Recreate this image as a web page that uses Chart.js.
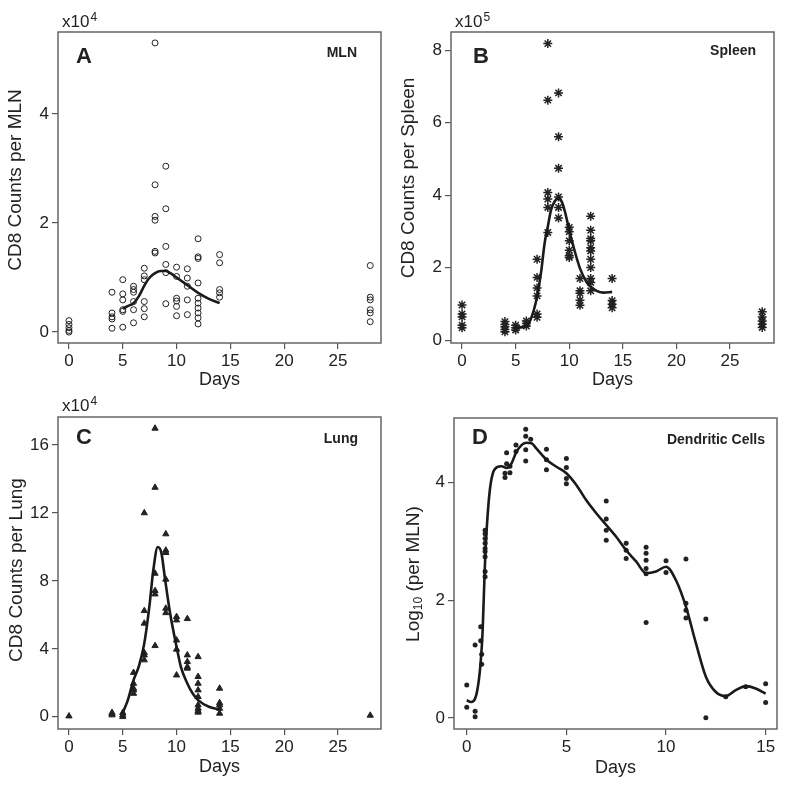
<!DOCTYPE html>
<html>
<head>
<meta charset="utf-8">
<script src="https://cdn.jsdelivr.net/npm/chart.js@4"></script>
<style>
	body { margin: 0; background: #fff; }
	#wrap { position: relative; width: 785px; height: 785px; }
	.panel { position: absolute; width: 392px; height: 392px; }
</style>
</head>
<body>
<div id="wrap">
	<div class="panel" style="left:0;top:0"><canvas id="chartA" width="392" height="392"></canvas></div>
	<div class="panel" style="left:392px;top:0"><canvas id="chartB" width="392" height="392"></canvas></div>
	<div class="panel" style="left:0;top:392px"><canvas id="chartC" width="392" height="392"></canvas></div>
	<div class="panel" style="left:392px;top:392px"><canvas id="chartD" width="392" height="392"></canvas></div>
</div>
<script>
/* Data */
const FONT = "'Liberation Sans', Arial, Helvetica, sans-serif"
const dayTicks = [0, 5, 10, 15, 20, 25]

// A: CD8 per MLN (x10^4)
const mlnDays = [0, 4, 5, 6, 7, 8, 9, 10, 11, 12, 14, 28]
const mlnCounts = [
	[0.21, 0.14, 0.08, 0.03, 0.0],
	[0.73, 0.35, 0.28, 0.24, 0.07],
	[0.96, 0.70, 0.59, 0.41, 0.38, 0.09],
	[0.84, 0.78, 0.73, 0.56, 0.41, 0.17],
	[1.17, 1.03, 0.96, 0.56, 0.43, 0.28],
	[5.30, 2.70, 2.12, 2.05, 1.48, 1.45],
	[3.04, 2.26, 1.57, 1.24, 1.09, 0.52],
	[1.19, 1.02, 0.62, 0.57, 0.47, 0.30],
	[1.16, 0.99, 0.84, 0.59, 0.32],
	[1.71, 1.38, 1.35, 0.90, 0.62, 0.53, 0.44, 0.35, 0.26, 0.15],
	[1.42, 1.27, 0.78, 0.72, 0.64],
	[1.22, 0.64, 0.59, 0.41, 0.35, 0.19],
]
const mlnFitDays = [5, 5.5, 6, 6.5, 7, 7.5, 8, 8.5, 9, 9.5, 10, 11, 12, 13, 14]
const mlnFitValues = [0.43, 0.48, 0.53, 0.66, 0.85, 1.0, 1.08, 1.12, 1.12, 1.07, 1.0, 0.86, 0.72, 0.61, 0.53]
const mlnTicks = [0, 2, 4]

// B: CD8 per spleen (x10^5)
const spleenDays = [0, 4, 5, 6, 7, 8, 9, 10, 11, 12, 14, 28]
const spleenCounts = [
	[0.97, 0.72, 0.64, 0.41, 0.34],
	[0.51, 0.43, 0.37, 0.29, 0.23],
	[0.41, 0.34, 0.28],
	[0.53, 0.46, 0.39],
	[2.23, 1.73, 1.44, 1.22, 0.72, 0.63],
	[8.18, 6.62, 4.07, 3.89, 3.66, 2.97],
	[6.82, 5.61, 4.74, 3.95, 3.66, 3.37],
	[3.11, 2.99, 2.74, 2.48, 2.33, 2.28],
	[1.70, 1.36, 1.29, 1.10, 0.96],
	[3.42, 3.03, 2.80, 2.74, 2.55, 2.46, 2.23, 2.00, 1.70, 1.59, 1.36],
	[1.70, 1.09, 0.99, 0.89],
	[0.78, 0.64, 0.53, 0.44, 0.35],
]
const spleenFitDays = [5, 6, 6.3, 6.7, 7, 7.4, 7.7, 8, 8.3, 8.65, 9, 9.3, 9.6, 10, 10.4, 11, 11.6, 12, 12.6, 13.2, 14]
const spleenFitValues = [0.34, 0.38, 0.5, 0.83, 1.2, 1.93, 2.67, 3.13, 3.59, 3.83, 3.91, 3.82, 3.54, 3.03, 2.57, 1.98, 1.61, 1.47, 1.35, 1.31, 1.33]
const spleenTicks = [0, 2, 4, 6, 8]

// C: CD8 per lung (x10^4)
const lungDays = [0, 4, 5, 6, 7, 8, 9, 10, 11, 12, 14, 28]
const lungCounts = [
	[0.04],
	[0.24, 0.16, 0.1],
	[0.24, 0.1, 0.0],
	[2.6, 1.96, 1.67, 1.57, 1.37],
	[12.0, 6.24, 5.5, 3.77, 3.63, 3.34],
	[16.98, 13.5, 8.44, 7.42, 7.22, 4.18],
	[10.76, 9.8, 9.66, 8.09, 6.38, 6.12],
	[5.89, 5.69, 4.51, 3.97, 2.45],
	[5.77, 3.63, 3.24, 2.94, 2.85],
	[3.53, 2.36, 1.96, 1.57, 1.18, 0.69, 0.49, 0.35, 0.26],
	[1.67, 0.82, 0.69, 0.49, 0.2],
	[0.08],
]
const lungFitDays = [5, 5.47, 6, 6.5, 7, 7.47, 7.84, 8.25, 8.6, 8.9, 9.4, 10, 10.4, 11, 11.5, 12, 13, 14]
const lungFitValues = [0.24, 0.98, 2.16, 2.98, 4.32, 6.48, 8.64, 10.0, 9.62, 8.24, 6.09, 4.12, 2.94, 1.96, 1.37, 0.98, 0.59, 0.43]
const lungTicks = [0, 4, 8, 12, 16]

// D: dendritic cells, log10 per MLN
const dcDays = [0, 0.42, 0.7, 0.75, 0.92, 1.92, 2.0, 2.17, 2.47, 2.96, 3.21, 4, 5, 7, 8, 9, 10, 11, 12, 13, 14, 15]
const dcLogs = [
	[0.56, 0.18],
	[1.24, 0.11, 0.02],
	[1.55, 1.31],
	[1.08, 0.91],
	[3.19, 3.13, 3.05, 2.97, 2.88, 2.83, 2.74, 2.49, 2.40],
	[4.16, 4.09],
	[4.51, 4.32],
	[4.28, 4.17],
	[4.64, 4.53],
	[4.91, 4.79, 4.56, 4.37],
	[4.74],
	[4.57, 4.39, 4.22],
	[4.41, 4.26, 4.07, 3.98],
	[3.69, 3.38, 3.19, 3.02],
	[2.97, 2.85, 2.71],
	[2.90, 2.80, 2.68, 2.54, 2.45, 1.62],
	[2.67, 2.47],
	[2.70, 1.95, 1.83, 1.70],
	[1.68, 0.0],
	[0.36],
	[0.53],
	[0.58, 0.26],
]
const dcFitDays = [0, 0.2, 0.5, 0.7, 0.8, 0.9, 1.0, 1.15, 1.3, 1.5, 1.75, 2, 2.25, 2.5, 3, 3.25, 3.5, 4, 4.5, 5, 5.5, 6, 6.5, 7, 7.5, 8, 8.5, 9, 9.5, 10, 10.5, 11, 11.5, 12, 12.5, 13, 13.5, 14, 14.5, 15]
const dcFitValues = [0.30, 0.27, 0.42, 0.95, 1.5, 2.5, 3.2, 3.85, 4.15, 4.26, 4.28, 4.25, 4.33, 4.53, 4.68, 4.67, 4.58, 4.39, 4.27, 4.16, 3.96, 3.70, 3.48, 3.28, 3.08, 2.85, 2.66, 2.46, 2.49, 2.57, 2.34, 1.89, 1.27, 0.70, 0.44, 0.37, 0.47, 0.54, 0.50, 0.41]
const dcTicks = [0, 2, 4]
const dcDayTicks = [0, 5, 10, 15]

/* Frame and labels */
const panelText = {
	id: 'panelText',
	afterDraw(chart, args, o) {
		const { ctx, chartArea: a } = chart
		ctx.save()
		ctx.strokeStyle = '#666'
		ctx.lineWidth = 1.5
		ctx.strokeRect(a.left, a.top, a.right - a.left, a.bottom - a.top)

		ctx.fillStyle = '#222'
		ctx.textBaseline = 'alphabetic'
		ctx.textAlign = 'left'
		ctx.font = 'bold 22px ' + FONT
		ctx.fillText(o.letter, a.left + o.letterX, a.top + o.letterY)

		ctx.textAlign = 'right'
		ctx.font = 'bold 14px ' + FONT
		ctx.fillText(o.tissue, a.right - o.tissueX, a.top + o.tissueY)

		ctx.textAlign = 'left'
		if (o.exponent) {
			ctx.font = '17px ' + FONT
			ctx.fillText('x10', a.left + 4, a.top - o.expY)
			const w = ctx.measureText('x10').width
			ctx.font = '12px ' + FONT
			ctx.fillText(o.exponent, a.left + 5 + w, a.top - o.expY - 6)
		}

		// y title, rotated, with optional subscript
		ctx.translate(o.titleX, o.titleY)
		ctx.rotate(-Math.PI / 2)
		const parts = o.yTitle
		let total = 0
		parts.forEach(p => {
			ctx.font = (p.sub ? '12px ' : '19px ') + FONT
			total += ctx.measureText(p.text).width
		})
		let x = -total / 2
		parts.forEach(p => {
			ctx.font = (p.sub ? '12px ' : '19px ') + FONT
			ctx.fillText(p.text, x, p.sub ? 10 : 7)
			x += ctx.measureText(p.text).width
		})
		ctx.restore()
	},
}

function makePanel(id, p) {
	const points = []
	p.days.forEach((d, i) => p.counts[i].forEach(v => points.push({ x: d, y: v })))
	const fit = p.fitDays.map((d, i) => ({ x: d, y: p.fitValues[i] }))
	const tickFont = { family: FONT, size: 17 }
	const tickGrid = { drawOnChartArea: false, color: '#555', tickLength: 6, lineWidth: 1.2 }

	new Chart(document.getElementById(id), {
		type: 'scatter',
		data: {
			datasets: [
				{
					data: fit,
					showLine: true,
					pointRadius: 0,
					borderColor: '#1a1a1a',
					borderWidth: 2.6,
					cubicInterpolationMode: 'monotone',
					order: 0,
				},
				{
					data: points,
					pointStyle: p.pointStyle,
					pointRadius: p.radius,
					pointBorderWidth: p.lineWidth,
					borderColor: '#222',
					backgroundColor: p.fill,
					order: 1,
				},
			],
		},
		options: {
			responsive: false,
			animation: false,
			events: [],
			layout: { padding: { left: 0, top: p.top, right: p.right, bottom: 0 } },
			plugins: {
				legend: { display: false },
				tooltip: { enabled: false },
				panelText: p.text,
			},
			scales: {
				x: {
					type: 'linear',
					min: p.xMin,
					max: p.xMax,
					afterBuildTicks: s => { s.ticks = p.xTicks.map(v => ({ value: v })) },
					afterFit: s => { s.height = p.bottomH },
					grid: tickGrid,
					border: { display: false },
					ticks: { font: tickFont, color: '#222', padding: 2, maxRotation: 0 },
					title: {
						display: true,
						text: 'Days',
						font: { family: FONT, size: 18 },
						color: '#222',
						padding: { top: 0, bottom: p.daysPad },
					},
				},
				y: {
					type: 'linear',
					min: p.yMin,
					max: p.yMax,
					afterBuildTicks: s => { s.ticks = p.yTicks.map(v => ({ value: v })) },
					afterFit: s => { s.width = p.leftW },
					grid: tickGrid,
					border: { display: false },
					ticks: { font: tickFont, color: '#222', padding: 3 },
				},
			},
		},
		plugins: [panelText],
	})
}

makePanel('chartA', {
	days: mlnDays, counts: mlnCounts, fitDays: mlnFitDays, fitValues: mlnFitValues,
	pointStyle: 'circle', radius: 3, lineWidth: 1, fill: 'rgba(0,0,0,0)',
	xMin: -1.02, xMax: 29.0, yMin: -0.2, yMax: 5.5, xTicks: dayTicks, yTicks: mlnTicks,
	leftW: 58, top: 32, right: 11, bottomH: 49, daysPad: 1,
	text: {
		letter: 'A', letterX: 18, letterY: 31, tissue: 'MLN', tissueX: 24, tissueY: 25,
		exponent: '4', expY: 5, titleX: 14, titleY: 180,
		yTitle: [{ text: 'CD8 Counts per MLN' }],
	},
})

makePanel('chartB', {
	days: spleenDays, counts: spleenCounts, fitDays: spleenFitDays, fitValues: spleenFitValues,
	pointStyle: 'star', radius: 4.5, lineWidth: 1.5, fill: '#222',
	xMin: -1.03, xMax: 29.1, yMin: -0.08, yMax: 8.5, xTicks: dayTicks, yTicks: spleenTicks,
	leftW: 59, top: 32, right: 10, bottomH: 49, daysPad: 1,
	text: {
		letter: 'B', letterX: 22, letterY: 31, tissue: 'Spleen', tissueX: 18, tissueY: 23,
		exponent: '5', expY: 5, titleX: 15, titleY: 178,
		yTitle: [{ text: 'CD8 Counts per Spleen' }],
	},
})

makePanel('chartC', {
	days: lungDays, counts: lungCounts, fitDays: lungFitDays, fitValues: lungFitValues,
	pointStyle: 'triangle', radius: 3.6, lineWidth: 1, fill: '#222',
	xMin: -1.02, xMax: 29.0, yMin: -0.72, yMax: 17.65, xTicks: dayTicks, yTicks: lungTicks,
	leftW: 58, top: 25, right: 11, bottomH: 55, daysPad: 6,
	text: {
		letter: 'C', letterX: 18, letterY: 27, tissue: 'Lung', tissueX: 23, tissueY: 26,
		exponent: '4', expY: 6, titleX: 15, titleY: 178,
		yTitle: [{ text: 'CD8 Counts per Lung' }],
	},
})

makePanel('chartD', {
	days: dcDays, counts: dcLogs, fitDays: dcFitDays, fitValues: dcFitValues,
	pointStyle: 'circle', radius: 2.5, lineWidth: 0, fill: '#222',
	xMin: -0.64, xMax: 15.57, yMin: -0.19, yMax: 5.1, xTicks: dcDayTicks, yTicks: dcTicks,
	leftW: 62, top: 26, right: 7, bottomH: 55, daysPad: 5,
	text: {
		letter: 'D', letterX: 18, letterY: 26, tissue: 'Dendritic Cells', tissueX: 12, tissueY: 26,
		exponent: null, titleX: 20, titleY: 182,
		yTitle: [{ text: 'Log' }, { text: '10', sub: true }, { text: ' (per MLN)' }],
	},
})
</script>
</body>
</html>
